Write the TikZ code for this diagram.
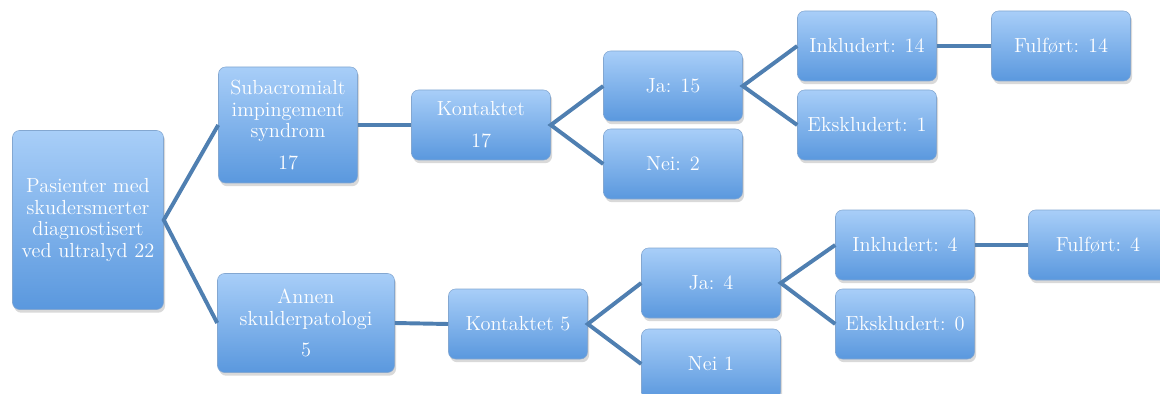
\documentclass[tikz,border=0pt]{standalone}
\usetikzlibrary{shadows}
\definecolor{boxtop}{HTML}{A8CEF8}
\definecolor{boxbot}{HTML}{5A98DE}
\definecolor{boxrim}{HTML}{4E82BE}
\definecolor{linkblue}{HTML}{4F7FB1}
\tikzset{
  flowbox/.style={rectangle, rounded corners=5pt, top color=boxtop, bottom color=boxbot,
    draw=boxrim!70, line width=0.4pt, text=white, align=center, inner sep=0pt,
    font=\fontsize{14.5}{15.5}\selectfont,
    drop shadow={opacity=0.3, shadow xshift=0.4mm, shadow yshift=-0.8mm}},
  boxsize/.style 2 args={minimum width=#1*0.025cm, minimum height=#2*0.025cm},
  link/.style={draw=linkblue, line width=2.8pt}
}
\begin{document}
\begin{tikzpicture}[x=0.025cm, y=-0.025cm]
    \clip (0,0) rectangle (1160,394);
    \useasboundingbox (0,0) rectangle (1160,394);

    % Root
    \node[flowbox, boxsize={151}{179}] (pas) at (88,220)
        {Pasienter med\\skudersmerter\\diagnostisert\\ved ultralyd 22};

    % Upper branch
    \node[flowbox, boxsize={139}{116}] (sis) at (288,125)
        {Subacromialt\\impingement\\syndrom\\[0.25cm]17};
    \node[flowbox, boxsize={139}{70}] (kon17) at (481,125) {Kontaktet\\[0.25cm]17};
    \node[flowbox, boxsize={139}{70}] (ja15) at (673,86) {Ja: 15};
    \node[flowbox, boxsize={139}{70}] (nei2) at (673,164) {Nei: 2};
    \node[flowbox, boxsize={139}{70}] (ink14) at (867,46) {Inkludert: 14};
    \node[flowbox, boxsize={139}{70}] (eks1) at (867,125) {Ekskludert: 1};
    \node[flowbox, boxsize={139}{70}] (ful14) at (1061,46) {Fulført: 14};

    % Lower branch
    \node[flowbox, boxsize={177}{99}] (ask) at (306,323)
        {Annen\\skulderpatologi\\[0.25cm]5};
    \node[flowbox, boxsize={139}{70}] (kon5) at (518,324) {Kontaktet 5};
    \node[flowbox, boxsize={139}{70}] (ja4) at (711,283) {Ja: 4};
    \node[flowbox, boxsize={139}{70}] (nei1) at (711,364) {Nei 1};
    \node[flowbox, boxsize={139}{70}] (ink4) at (905,245) {Inkludert: 4};
    \node[flowbox, boxsize={139}{70}] (eks0) at (905,324) {Ekskludert: 0};
    \node[flowbox, boxsize={139}{70}] (ful4) at (1098,245) {Fulført: 4};

    % Connectors
    \draw[link] (sis.west) -- (pas.east) -- (ask.west);
    \draw[link] (sis.east) -- (kon17.west);
    \draw[link] (ja15.west) -- (kon17.east) -- (nei2.west);
    \draw[link] (ink14.west) -- (ja15.east) -- (eks1.west);
    \draw[link] (ink14.east) -- (ful14.west);
    \draw[link] (ask.east) -- (kon5.west);
    \draw[link] (ja4.west) -- (kon5.east) -- (nei1.west);
    \draw[link] (ink4.west) -- (ja4.east) -- (eks0.west);
    \draw[link] (ink4.east) -- (ful4.west);
\end{tikzpicture}
\end{document}
